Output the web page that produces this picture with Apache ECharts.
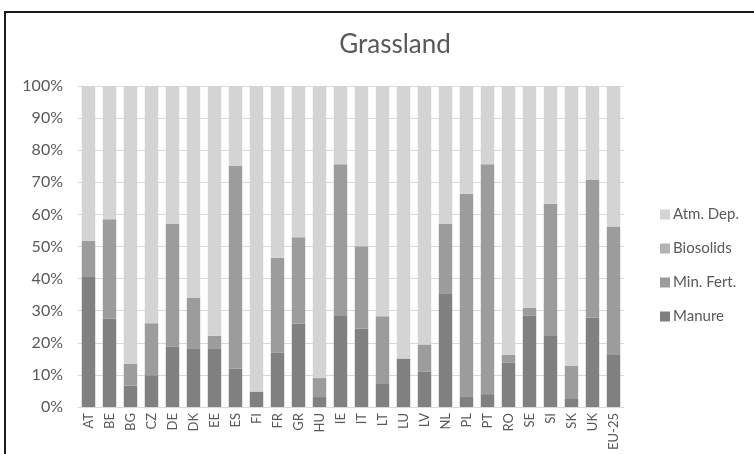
<!DOCTYPE html>
<html>
<head>
<meta charset="utf-8">
<script src="https://cdn.jsdelivr.net/npm/echarts@6/dist/echarts.min.js"></script>
<style>
  html, body { margin: 0; padding: 0; background: #fff; }
  #wrap { position: relative; width: 754px; height: 454px; overflow: hidden; }
  #main { position: absolute; left: 0; top: 0; width: 754px; height: 454px; }
  #frame { position: absolute; left: 4px; top: 11px; width: 800px; height: 500px;
           border-left: 2px solid #1a1a1a; border-top: 2px solid #1a1a1a; pointer-events: none; }
</style>
</head>
<body>
<div id="wrap">
  <div id="main"></div>
  <div id="frame"></div>
</div>
<script>
var countries = ['AT','BE','BG','CZ','DE','DK','EE','ES','FI','FR','GR','HU','IE',
                 'IT','LT','LU','LV','NL','PL','PT','RO','SE','SI','SK','UK','EU-25'];
// shares in %
var manure    = [40.7, 27.6, 6.7, 9.9, 18.9, 18.3, 18.3, 12.0, 4.8, 17.0, 25.9, 3.1, 28.6,
                 24.4, 7.4, 15.1, 11.1, 35.4, 3.1, 4.0, 13.9, 28.4, 22.1, 2.5, 27.8, 16.2];
var minFert   = [11.0, 30.9, 6.8, 16.2, 38.1, 15.8, 3.9, 63.1, 0, 29.5, 27.0, 5.9, 47.0,
                 25.7, 20.9, 0, 8.4, 21.6, 63.3, 71.6, 2.3, 2.5, 41.2, 10.4, 43.1, 40.0];
var biosolids = [0, 0, 0, 0, 0, 0, 0, 0, 0, 0, 0, 0, 0,
                 0, 0, 0, 0, 0, 0, 0, 0, 0, 0, 0, 0, 0];
var atmDep = countries.map(function (c, i) {
  return +(100 - manure[i] - minFert[i] - biosolids[i]).toFixed(1);
});

var myChart = echarts.init(document.getElementById('main'));
var textColor = '#595959';
var font = 'Lato, "Open Sans", sans-serif';

function bar(name, data, color) {
  return {
    name: name,
    type: 'bar',
    stack: 'total',
    data: data,
    barCategoryGap: '36%',
    itemStyle: { color: color },
    emphasis: { disabled: true }
  };
}

var option = {
  animation: false,
  title: {
    text: 'Grassland',
    left: 390,
    textAlign: 'center',
    top: 27,
    textStyle: { color: textColor, fontSize: 26, fontWeight: 'normal', fontFamily: font }
  },
  legend: {
    orient: 'vertical',
    left: 655,
    top: 202,
    itemGap: 19,
    itemWidth: 10,
    itemHeight: 10,
    icon: 'rect',
    data: ['Atm. Dep.', 'Biosolids', 'Min. Fert.', 'Manure'],
    textStyle: { color: textColor, fontSize: 15, fontFamily: font, padding: [0, 0, 0, -2] }
  },
  grid: { left: 78, right: 130, top: 86, bottom: 47, containLabel: false },
  xAxis: {
    type: 'category',
    data: countries,
    axisLine: { lineStyle: { color: '#d9d9d9', width: 1 } },
    axisTick: { show: false },
    axisLabel: { rotate: 90, color: textColor, fontSize: 13, fontFamily: font, margin: 6, interval: 0 }
  },
  yAxis: {
    type: 'value',
    min: 0,
    max: 100,
    interval: 10,
    axisLine: { show: false },
    axisTick: { show: false },
    splitLine: { lineStyle: { color: '#d9d9d9', width: 1 } },
    axisLabel: { formatter: '{value}%', color: textColor, fontSize: 16, fontFamily: font, margin: 15 }
  },
  series: [
    bar('Manure', manure, '#808080'),
    bar('Min. Fert.', minFert, '#9c9c9c'),
    bar('Biosolids', biosolids, '#b3b3b3'),
    bar('Atm. Dep.', atmDep, '#d4d4d4')
  ]
};
myChart.setOption(option);
</script>
</body>
</html>
